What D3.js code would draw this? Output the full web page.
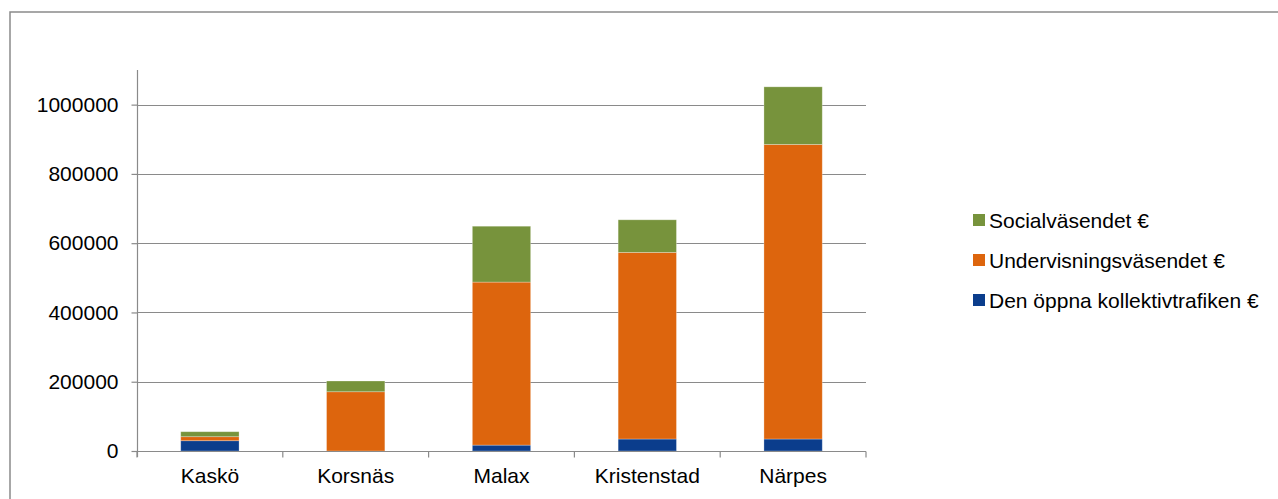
<!DOCTYPE html>
<html>
<head>
<meta charset="utf-8">
<script src="https://cdn.jsdelivr.net/npm/d3@7"></script>
<style>
  body { margin: 0; background: #fff; }
  svg { display: block; font-family: "Liberation Sans", Arial, sans-serif; }
</style>
</head>
<body>
<svg width="1278" height="499"></svg>
<script>
// chart data
const kommuner = ['Kaskö', 'Korsnäs', 'Malax', 'Kristenstad', 'Närpes'];
const kollektivtrafik = [29700, 0, 17000, 34600, 34600];
const undervisning = [11600, 171100, 470700, 538800, 850500];
const social = [14400, 31000, 161300, 94100, 166300];
const seriesNames = ['Den öppna kollektivtrafiken €', 'Undervisningsväsendet €', 'Socialväsendet €'];
const seriesColors = ['#0B3D8C', '#DD650D', '#77933C'];
const yTicks = [0, 200000, 400000, 600000, 800000, 1000000];

const svg = d3.select('svg');
const gray = '#8a8a8a';
const fontSize = 21;

// outer frame (right/bottom edges fall outside the picture)
svg.append('rect')
    .attr('x', 10).attr('y', 12)
    .attr('width', 1300).attr('height', 520)
    .attr('fill', 'none')
    .attr('stroke', gray)
    .attr('stroke-width', 1.5);

const plotLeft = 137, plotRight = 866, plotTop = 70, plotBottom = 451;

const x = d3.scaleBand()
    .domain(kommuner)
    .range([plotLeft, plotRight])
    .paddingInner(0.6)
    .paddingOuter(0.3);

const y = d3.scaleLinear()
    .domain([0, 1100000])
    .range([plotBottom, plotTop]);

// gridlines
svg.append('g')
    .selectAll('line')
    .data(yTicks.slice(1))
    .join('line')
    .attr('x1', plotLeft).attr('x2', plotRight)
    .attr('y1', d => Math.round(y(d)) + 0.5)
    .attr('y2', d => Math.round(y(d)) + 0.5)
    .attr('stroke', gray)
    .attr('stroke-width', 1.2);

// stacked bars
const rows = kommuner.map((k, i) => ({
    k: k,
    s0: kollektivtrafik[i],
    s1: undervisning[i],
    s2: social[i]
}));
const stack = d3.stack().keys(['s0', 's1', 's2'])(rows);

svg.append('g')
    .selectAll('g')
    .data(stack)
    .join('g')
    .attr('fill', (d, i) => seriesColors[i])
    .selectAll('rect')
    .data(d => d)
    .join('rect')
    .attr('x', d => x(d.data.k))
    .attr('width', x.bandwidth())
    .attr('y', d => y(d[1]))
    .attr('height', d => Math.max(0, y(d[0]) - y(d[1])))
    .attr('stroke', 'rgba(255,255,255,0.35)')
    .attr('stroke-width', 0.8);

// y axis
const yAxis = d3.axisLeft(y)
    .tickValues(yTicks)
    .tickFormat(d3.format('d'))
    .tickSize(6)
    .tickPadding(13);

const gy = svg.append('g')
    .attr('transform', `translate(${plotLeft + 0.5},0)`)
    .call(yAxis);
gy.select('.domain').remove();
gy.append('line')
    .attr('y1', plotTop).attr('y2', plotBottom + 6)
    .attr('stroke', gray).attr('stroke-width', 1.2);
gy.selectAll('.tick line').attr('stroke', gray).attr('stroke-width', 1.2);
gy.selectAll('.tick text')
    .attr('fill', '#000')
    .attr('font-size', fontSize)
    .attr('font-family', '"Liberation Sans", Arial, sans-serif');

// x axis
const gx = svg.append('g')
    .attr('transform', `translate(0,${plotBottom + 0.5})`);
gx.append('line')
    .attr('x1', plotLeft).attr('x2', plotRight)
    .attr('stroke', gray).attr('stroke-width', 1.2);
const edges = kommuner.map(k => x(k) - x.step() * 0.3).concat([plotRight]);
gx.selectAll('line.tk')
    .data(edges)
    .join('line')
    .attr('class', 'tk')
    .attr('x1', d => d).attr('x2', d => d)
    .attr('y1', 0).attr('y2', 6)
    .attr('stroke', gray).attr('stroke-width', 1.2);
gx.selectAll('text')
    .data(kommuner)
    .join('text')
    .attr('x', d => x(d) + x.bandwidth() / 2)
    .attr('y', 31)
    .attr('text-anchor', 'middle')
    .attr('font-size', fontSize)
    .text(d => d);

// legend (reverse order, top = Socialväsendet)
const legend = svg.append('g');
const legendRows = [2, 1, 0];
legendRows.forEach((si, j) => {
    const cy = 220 + j * 40;
    legend.append('rect')
        .attr('x', 973).attr('y', cy - 6)
        .attr('width', 12).attr('height', 12)
        .attr('fill', seriesColors[si]);
    legend.append('text')
        .attr('x', 989).attr('y', cy)
        .attr('dy', '0.36em')
        .attr('font-size', fontSize)
        .text(seriesNames[si]);
});
</script>
</body>
</html>
